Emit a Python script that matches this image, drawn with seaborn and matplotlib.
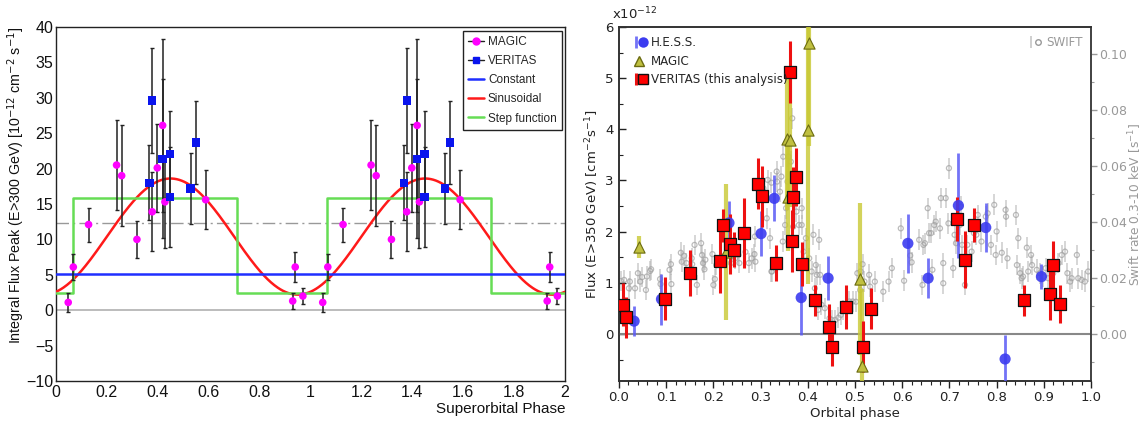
import numpy as np
import pandas as pd
import matplotlib
matplotlib.use("Agg")
import matplotlib.pyplot as plt
import seaborn as sns
from matplotlib.lines import Line2D
from matplotlib.ticker import MultipleLocator, FuncFormatter
from matplotlib.legend_handler import HandlerTuple

# ---------------- Left panel data (superorbital phase 0-1; plot repeats it over 1-2) ----------------
magic_sup_phase = [0.048, 0.068, 0.128, 0.238, 0.258, 0.318, 0.378, 0.398, 0.419, 0.428, 0.588, 0.930, 0.940, 0.970]
magic_sup_flux = [1.1, 6.1, 12.1, 20.5, 19.0, 10.0, 13.9, 20.1, 26.1, 15.3, 15.6, 1.3, 6.1, 2.0]
magic_sup_err = [1.4, 1.8, 2.4, 6.3, 7.1, 2.6, 5.6, 6.2, 12.2, 6.5, 4.2, 1.1, 2.05, 1.1]

veritas_sup_phase = [0.367, 0.378, 0.419, 0.448, 0.448, 0.529, 0.549]
veritas_sup_flux = [18.0, 29.6, 21.4, 22.1, 16.0, 17.2, 23.7]
veritas_sup_err = [5.3, 7.4, 11.2, 6.1, 7.1, 5.0, 5.9]

constant_level = 5.06
sin_mean, sin_amp, sin_peak = 10.4, 8.2, 0.45
step_low, step_high, step_on, step_off = 2.45, 15.8, 0.066, 0.71
dashdot_level = 12.34

# ---------------- Right panel data (orbital phase) ----------------
hess_phase = [0.032, 0.090, 0.233, 0.301, 0.329, 0.386, 0.443, 0.612, 0.655, 0.719, 0.777, 0.818, 0.895]
hess_flux = [0.25, 0.68, 2.17, 1.96, 2.65, 0.71, 1.09, 1.77, 1.09, 2.51, 2.08, -0.49, 1.12]
hess_err = [0.29, 0.50, 0.43, 0.44, 0.45, 0.73, 0.43, 0.57, 0.39, 1.03, 0.48, 0.47, 0.25]

magic_orb_phase = [0.042, 0.226, 0.355, 0.362, 0.357, 0.400, 0.403, 0.511, 0.514]
magic_orb_flux = [1.70, 1.61, 3.82, 3.79, 2.68, 3.98, 5.68, 1.07, -0.63]
magic_orb_err = [0.22, 1.33, 1.40, 1.30, 1.05, 3.00, 2.00, 1.48, 1.50]

veritas_orb_phase = [0.008, 0.015, 0.097, 0.150, 0.213, 0.220, 0.235, 0.244, 0.265, 0.294,
                     0.303, 0.333, 0.363, 0.367, 0.369, 0.374, 0.388, 0.416, 0.444, 0.452,
                     0.480, 0.516, 0.533, 0.717, 0.733, 0.752, 0.858, 0.914, 0.919, 0.934]
veritas_orb_flux = [0.57, 0.33, 0.69, 1.19, 1.43, 2.12, 1.76, 1.65, 1.97, 2.94,
                    2.69, 1.39, 5.12, 1.82, 2.67, 3.07, 1.36, 0.66, 0.14, -0.26,
                    0.52, -0.25, 0.49, 2.25, 1.45, 2.13, 0.66, 0.78, 1.35, 0.59]
veritas_orb_err = [0.42, 0.40, 0.42, 0.45, 0.63, 0.33, 0.58, 0.35, 0.69, 0.49,
                   0.60, 0.35, 0.61, 0.60, 0.60, 0.56, 0.43, 0.30, 0.44, 0.37,
                   0.43, 0.50, 0.40, 0.43, 0.56, 0.34, 0.30, 0.50, 0.46, 0.37]

swift_phase = [0.004, 0.011, 0.021, 0.023, 0.034, 0.040, 0.045, 0.049, 0.057, 0.059,
               0.066, 0.068, 0.087, 0.088, 0.107, 0.110, 0.111, 0.131, 0.133, 0.138,
               0.143, 0.154, 0.155, 0.160, 0.165, 0.174, 0.176, 0.178, 0.181, 0.183,
               0.198, 0.200, 0.203, 0.206, 0.225, 0.237, 0.246, 0.253, 0.255, 0.268,
               0.275, 0.281, 0.287, 0.288, 0.289, 0.306, 0.315, 0.323, 0.313, 0.320,
               0.323, 0.324, 0.334, 0.335, 0.341, 0.344, 0.348, 0.347, 0.352, 0.354,
               0.357, 0.359, 0.364, 0.367, 0.369, 0.368, 0.376, 0.381, 0.387, 0.387,
               0.391, 0.396, 0.403, 0.408, 0.412, 0.417, 0.419, 0.424, 0.426, 0.415,
               0.422, 0.429, 0.436, 0.446, 0.451, 0.458, 0.465, 0.470, 0.475, 0.488,
               0.495, 0.502, 0.505, 0.511, 0.512, 0.516, 0.520, 0.530, 0.532, 0.542,
               0.560, 0.571, 0.578, 0.597, 0.604, 0.617, 0.620, 0.636, 0.645, 0.643,
               0.654, 0.657, 0.648, 0.661, 0.664, 0.668, 0.671, 0.680, 0.682, 0.687,
               0.687, 0.692, 0.698, 0.699, 0.708, 0.711, 0.714, 0.722, 0.724, 0.727,
               0.733, 0.738, 0.747, 0.752, 0.757, 0.760, 0.768, 0.777, 0.781, 0.788,
               0.795, 0.798, 0.800, 0.811, 0.819, 0.820, 0.823, 0.841, 0.846, 0.843,
               0.850, 0.853, 0.856, 0.864, 0.867, 0.873, 0.875, 0.885, 0.892, 0.899,
               0.904, 0.909, 0.920, 0.931, 0.938, 0.945, 0.950, 0.956, 0.959, 0.970,
               0.973, 0.980, 0.987, 0.994]
swift_rate = [0.0189, 0.0193, 0.0163, 0.0187, 0.0163, 0.0217, 0.0187, 0.0203, 0.0157, 0.0205,
              0.0225, 0.0231, 0.0196, 0.0178, 0.0229, 0.0249, 0.0178, 0.0290, 0.0258, 0.0279,
              0.0253, 0.0270, 0.0249, 0.0318, 0.0175, 0.0324, 0.0282, 0.0253, 0.0231, 0.0265,
              0.0285, 0.0175, 0.0196, 0.0246, 0.0282, 0.0253, 0.0270, 0.0282, 0.0253, 0.0293,
              0.0253, 0.0270, 0.0285, 0.0348, 0.0258, 0.0520, 0.0550, 0.0540, 0.0413, 0.0342,
              0.0223, 0.0223, 0.0580, 0.0544, 0.0508, 0.0562, 0.0633, 0.0330, 0.0389, 0.0449,
              0.0544, 0.0633, 0.0615, 0.0770, 0.0383, 0.0330, 0.0437, 0.0389, 0.0449, 0.0389,
              0.0294, 0.0342, 0.0270, 0.0223, 0.0354, 0.0246, 0.0211, 0.0336, 0.0211, 0.0163,
              0.0086, 0.0104, 0.0092, 0.0056, 0.0050, 0.0050, 0.0058, 0.0068, 0.0086, 0.0116,
              0.0116, 0.0115, 0.0217, 0.0157, 0.0223, 0.0249, 0.0187, 0.0211, 0.0169, 0.0187,
              0.0151, 0.0187, 0.0235, 0.0377, 0.0190, 0.0280, 0.0256, 0.0336, 0.0318, 0.0175,
              0.0449, 0.0360, 0.0324, 0.0360, 0.0229, 0.0389, 0.0401, 0.0377, 0.0485, 0.0181,
              0.0253, 0.0485, 0.0395, 0.0592, 0.0235, 0.0354, 0.0324, 0.0389, 0.0455, 0.0318,
              0.0175, 0.0318, 0.0294, 0.0360, 0.0354, 0.0425, 0.0330, 0.0419, 0.0431, 0.0318,
              0.0461, 0.0282, 0.0366, 0.0290, 0.0443, 0.0419, 0.0270, 0.0425, 0.0342, 0.0246,
              0.0217, 0.0199, 0.0205, 0.0308, 0.0223, 0.0282, 0.0246, 0.0229, 0.0217, 0.0205,
              0.0235, 0.0199, 0.0217, 0.0253, 0.0282, 0.0294, 0.0217, 0.0187, 0.0199, 0.0282,
              0.0199, 0.0193, 0.0187, 0.0223]
swift_err = 0.0037

# ---------------- Figure ----------------
sns.set_theme(style="white")
plt.rcParams["font.family"] = ["DejaVu Sans"]
fig = plt.figure(figsize=(11.45, 4.23), dpi=100)
ax1 = fig.add_axes([56 / 1145, 42 / 423, 509 / 1145, 354 / 423])
ax = fig.add_axes([619 / 1145, 42 / 423, 472 / 1145, 354 / 423])

# ===== Left panel (ROOT style) =====
LF = ["Liberation Sans", "DejaVu Sans"]
sup_magic = pd.DataFrame({"phase": magic_sup_phase, "flux": magic_sup_flux, "err": magic_sup_err})
sup_magic = pd.concat([sup_magic, sup_magic.assign(phase=sup_magic["phase"] + 1)], ignore_index=True)
sup_ver = pd.DataFrame({"phase": veritas_sup_phase, "flux": veritas_sup_flux, "err": veritas_sup_err})
sup_ver = pd.concat([sup_ver, sup_ver.assign(phase=sup_ver["phase"] + 1)], ignore_index=True)

ax1.axhline(0, color="#b0b0b0", lw=1.2, zorder=1)
ax1.axhline(dashdot_level, color="#999999", lw=1.0, ls=(0, (9, 3, 1.5, 3)), zorder=1)

grid = np.linspace(0, 2, 600)
sin_df = pd.DataFrame({"phase": grid, "flux": sin_mean + sin_amp * np.cos(2 * np.pi * (grid - sin_peak))})
sns.lineplot(data=sin_df, x="phase", y="flux", color="#ff1a1a", lw=1.8, ax=ax1, zorder=3)
edges = [0, step_on, step_off, 1 + step_on, 1 + step_off, 2]
levels = [step_low, step_high, step_low, step_high, step_low]
sx, sy = [], []
for i, lv in enumerate(levels):
    sx += [edges[i], edges[i + 1]]
    sy += [lv, lv]
step_df = pd.DataFrame({"phase": sx, "flux": sy})
sns.lineplot(data=step_df, x="phase", y="flux", color="#66dd55", lw=1.8, ax=ax1, sort=False,
             estimator=None, zorder=3)
ax1.axhline(constant_level, color="#1f2fff", lw=1.8, zorder=3)

ax1.errorbar(sup_magic["phase"], sup_magic["flux"], yerr=sup_magic["err"], fmt="none",
             ecolor="#222222", elinewidth=1.1, capsize=1.5, capthick=1.0, zorder=4)
ax1.errorbar(sup_ver["phase"], sup_ver["flux"], yerr=sup_ver["err"], fmt="none",
             ecolor="#222222", elinewidth=1.1, capsize=1.5, capthick=1.0, zorder=4)
sns.scatterplot(data=sup_magic, x="phase", y="flux", marker="o", color="#ff00ff", s=30,
                edgecolor="none", ax=ax1, zorder=5)
sns.scatterplot(data=sup_ver, x="phase", y="flux", marker="s", color="#0a14ee", s=36,
                edgecolor="none", ax=ax1, zorder=5)

ax1.set_xlim(0, 2)
ax1.set_ylim(-10, 40)
ax1.xaxis.set_major_locator(MultipleLocator(0.2))
ax1.xaxis.set_minor_locator(MultipleLocator(0.04))
ax1.yaxis.set_major_locator(MultipleLocator(5))
ax1.yaxis.set_minor_locator(MultipleLocator(1))
fmt = FuncFormatter(lambda v, p: f"{v:g}".replace("-", "\u2212"))
ax1.xaxis.set_major_formatter(fmt)
ax1.yaxis.set_major_formatter(fmt)
ax1.tick_params(axis="both", which="both", direction="in", top=False, right=False,
                colors="#111111", labelsize=11.5)
ax1.tick_params(axis="x", which="major", length=8, width=1, pad=3)
ax1.tick_params(axis="x", which="minor", length=4, width=1)
ax1.tick_params(axis="y", which="major", length=11, width=1, pad=2)
ax1.tick_params(axis="y", which="minor", length=5.5, width=1)
for lab in ax1.get_xticklabels() + ax1.get_yticklabels():
    lab.set_family(LF)
for sp in ax1.spines.values():
    sp.set_color("#222222")
    sp.set_linewidth(1.0)
ax1.set_xlabel("Superorbital Phase", loc="right", fontsize=11, family=LF, labelpad=1, color="#111111")
ax1.set_ylabel(r"Integral Flux Peak (E>300 GeV) [10$^{-12}$ cm$^{-2}$ s$^{-1}$]", loc="top",
               fontsize=10.3, family=LF, color="#111111")
ax1.yaxis.set_label_coords((27 - 56) / 509, 1.0)

left_handles = [
    Line2D([], [], color="#222222", lw=1, marker="o", mfc="#ff00ff", mec="#ff00ff", ms=5),
    Line2D([], [], color="#222222", lw=1, marker="s", mfc="#0a14ee", mec="#0a14ee", ms=5),
    Line2D([], [], color="#1f2fff", lw=1.8),
    Line2D([], [], color="#ff1a1a", lw=1.8),
    Line2D([], [], color="#66dd55", lw=1.8),
]
leg1 = ax1.legend(left_handles, ["MAGIC", "VERITAS", "Constant", "Sinusoidal", "Step function"],
                  loc="upper right", bbox_to_anchor=(0.994, 0.989), frameon=True, fancybox=False,
                  edgecolor="#222222", framealpha=1, prop={"family": LF, "size": 8.5},
                  handlelength=1.3, handletextpad=0.35, labelspacing=0.6, borderpad=0.45,
                  borderaxespad=0.0)
leg1.get_frame().set_linewidth(1.0)

# ===== Right panel (matplotlib style) =====
ax2 = ax.twinx()
ax.set_zorder(ax2.get_zorder() + 1)
ax.patch.set_visible(False)

ax.axhline(0, color="#888888", lw=1.5, zorder=1)

sw = pd.DataFrame({"phase": swift_phase, "rate": swift_rate})
ax2.errorbar(sw["phase"], sw["rate"], yerr=swift_err, fmt="none", ecolor="#b0b0b0",
             elinewidth=1.3, alpha=0.55, zorder=1)
sns.scatterplot(data=sw, x="phase", y="rate", marker="o", facecolor="none", edgecolor="#a0a0a0",
                s=13, linewidth=0.9, alpha=0.7, ax=ax2, zorder=2)
sw_leg_err = ax2.errorbar([], [], yerr=[], fmt="none", ecolor="#aaaaaa", elinewidth=1.3, alpha=0.6)

hess = pd.DataFrame({"phase": hess_phase, "flux": hess_flux, "err": hess_err})
mag = pd.DataFrame({"phase": magic_orb_phase, "flux": magic_orb_flux, "err": magic_orb_err})
ver = pd.DataFrame({"phase": veritas_orb_phase, "flux": veritas_orb_flux, "err": veritas_orb_err})

e_h = ax.errorbar(hess["phase"], hess["flux"], yerr=hess["err"], fmt="none", ecolor="#5a5af5",
                  elinewidth=2, alpha=0.85, zorder=3)
e_m = ax.errorbar(mag["phase"], mag["flux"], yerr=mag["err"], fmt="none", ecolor="#c8c832",
                  elinewidth=3, alpha=0.8, zorder=3)
e_v = ax.errorbar(ver["phase"], ver["flux"], yerr=ver["err"], fmt="none", ecolor="#ee1111",
                  elinewidth=2.2, zorder=4)
sns.scatterplot(data=hess, x="phase", y="flux", marker="o", color="#3c3cf0", s=65,
                edgecolor="none", alpha=0.9, ax=ax, zorder=5)
sns.scatterplot(data=mag, x="phase", y="flux", marker="^", color="#c0c040", s=65,
                edgecolor="#6b6b10", linewidth=0.8, ax=ax, zorder=5)
sns.scatterplot(data=ver, x="phase", y="flux", marker="s", color="#ff0000", s=80,
                edgecolor="#111111", linewidth=0.9, ax=ax, zorder=6)

RS = 9.5
ax.set_xlim(0, 1)
ax.set_ylim(-0.92, 6.0)
ax2.set_ylim(-0.0168, 0.1096)
ax.xaxis.set_major_locator(MultipleLocator(0.1))
ax.xaxis.set_minor_locator(MultipleLocator(0.02))
ax.yaxis.set_major_locator(MultipleLocator(1))
ax.yaxis.set_minor_locator(MultipleLocator(0.5))
ax2.yaxis.set_major_locator(MultipleLocator(0.02))
ax2.yaxis.set_minor_locator(MultipleLocator(0.01))
ax.xaxis.set_major_formatter(FuncFormatter(lambda v, p: f"{v:.1f}"))
ax.yaxis.set_major_formatter(FuncFormatter(lambda v, p: f"{v:g}"))
ax2.yaxis.set_major_formatter(FuncFormatter(lambda v, p: f"{v:.2f}"))
ax.tick_params(axis="x", which="both", direction="out", bottom=True, top=False, labelsize=RS,
               colors="#222222", pad=2)
ax.tick_params(axis="x", which="major", length=5, width=1)
ax.tick_params(axis="x", which="minor", length=3, width=0.8)
ax.tick_params(axis="y", which="both", direction="in", left=True, right=False, labelsize=RS,
               colors="#222222", pad=4)
ax.tick_params(axis="y", which="major", length=5, width=1)
ax.tick_params(axis="y", which="minor", length=3, width=0.8)
ax2.tick_params(axis="y", which="both", direction="out", right=True, labelsize=9,
                colors="#999999", labelcolor="#999999", pad=1.5)
ax2.tick_params(axis="y", which="major", length=4, width=1)
ax2.tick_params(axis="y", which="minor", length=2.5, width=0.8)
for a in (ax, ax2):
    for sp in a.spines.values():
        sp.set_color("#333333")
        sp.set_linewidth(1.2)
ax2.spines["right"].set_color("#999999")
ax2.set_xlabel("")
ax2.set_ylabel("")
ax.set_xlabel("Orbital phase", fontsize=RS, labelpad=2, color="#222222")
ax.set_ylabel(r"Flux (E>350 GeV) [cm$^{-2}$s$^{-1}$]", fontsize=RS, labelpad=3, color="#222222")
fig.text(1135 / 1145, 0.5 * (42 + 396) / 423, r"Swift rate 0.3-10 keV [s$^{-1}$]", rotation=90,
         ha="center", va="center", fontsize=8.8, color="#999999")
ax.text(-0.015, 1.012, r"x10$^{-12}$", transform=ax.transAxes, ha="left", va="bottom",
        fontsize=RS, color="#222222")

leg_h = ax.legend(
    [(e_h, Line2D([], [], ls="none", marker="o", mfc="#3c3cf0", mec="none", ms=7.5)),
     (Line2D([], [], ls="none", marker="^", mfc="#c0c040", mec="#6b6b10", ms=7.5),),
     (e_v, Line2D([], [], ls="none", marker="s", mfc="#ff0000", mec="#111111", ms=7.5))],
    ["H.E.S.S.", "MAGIC", "VERITAS (this analysis)"],
    handler_map={tuple: HandlerTuple(ndivide=None)},
    loc="upper left", bbox_to_anchor=(0.01, 1.004), frameon=False, fontsize=8.6,
    handlelength=0.8, handletextpad=0.6, labelspacing=0.45, borderaxespad=0.5)
leg_h.set_zorder(20)
leg_s = ax2.legend(
    [(sw_leg_err, Line2D([], [], ls="none", marker="o", mfc="none", mec="#999999", ms=4))],
    ["SWIFT"], handler_map={tuple: HandlerTuple(ndivide=None)},
    loc="upper right", bbox_to_anchor=(1.005, 1.004), frameon=False, fontsize=8.6,
    handlelength=0.8, handletextpad=0.6, labelcolor="#999999")

fig.savefig("out.png", dpi=100)
